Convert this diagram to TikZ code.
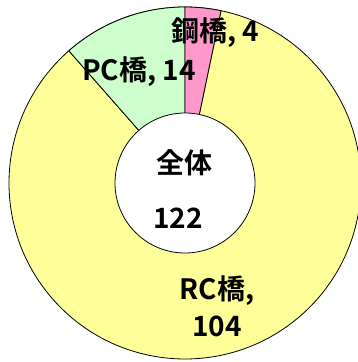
\documentclass[tikz,border=0pt]{standalone}
\usepackage{fontspec}
\setmainfont{Noto Sans CJK JP Bold}
\definecolor{rcyellow}{HTML}{FFFF99}
\definecolor{pcgreen}{HTML}{CCFFCC}
\definecolor{steelpink}{HTML}{FF99CC}
\tikzset{
  slice/.style={draw=black,line width=0.8pt,line join=round},
  lbl/.style={font=\fontsize{28}{37}\selectfont,inner sep=0pt,align=center}
}
\begin{document}
\begin{tikzpicture}[x=1pt,y=1pt]
    \useasboundingbox (-185,-179) rectangle (173,183);
    % RC
    \filldraw[slice,fill=rcyellow] (0,0) -- (131.3:176) arc[start angle=131.3,end angle=-281.8,radius=176] -- cycle;
    % PC
    \filldraw[slice,fill=pcgreen] (0,0) -- (90:176) arc[start angle=90,end angle=131.3,radius=176] -- cycle;
    % steel
    \filldraw[slice,fill=steelpink] (0,0) -- (90:176) arc[start angle=90,end angle=78.2,radius=176] -- cycle;
    % hole
    \filldraw[slice,fill=white] (0,0) circle (70);
    \node[lbl] (steel) at (30,150) {鋼橋,\ 4};
    \node[lbl] (pc) at (-46,111) {PC橋,\ 14};
    \node[lbl] (all) at (0,20) {全体};
    \node[lbl] (total) at (-7,-35) {122};
    \node[lbl] (rc) at (32,-123) {RC橋,\\104};
\end{tikzpicture}
\end{document}
